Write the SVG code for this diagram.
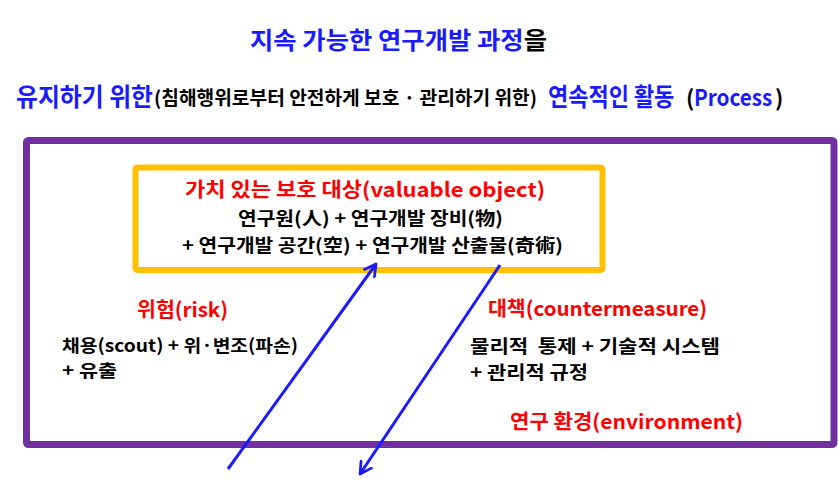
<svg xmlns="http://www.w3.org/2000/svg" width="838" height="490" viewBox="0 0 838 490">
<defs>
<style>
text{font-family:"Noto Sans CJK KR","Noto Sans",sans-serif;font-weight:700;}
.blue{fill:#1a1aff;}
.red{fill:#ff0000;}
.blk{fill:#000000;}
.conn{stroke:#1a1aff;stroke-width:3;fill:none;}
</style>
<marker id="ah" viewBox="0 0 12 12" refX="10" refY="6" markerWidth="5" markerHeight="5" orient="auto" markerUnits="strokeWidth">
<path d="M1,1 L10,6 L1,11" fill="none" stroke="#1a1aff" stroke-width="2.2" stroke-linecap="round" stroke-linejoin="round"/>
</marker>
</defs>
<rect width="838" height="490" fill="#ffffff"/>
<g id="title">
<text x="250" y="49" font-size="24" class="blue" textLength="297" lengthAdjust="spacingAndGlyphs">지속 가능한 연구개발 과정<tspan class="blk">을</tspan></text>
<text x="16" y="106" font-size="25" class="blue" textLength="137" lengthAdjust="spacingAndGlyphs">유지하기 위한</text>
<text x="154" y="105" font-size="19" class="blk" textLength="383" lengthAdjust="spacingAndGlyphs">(침해행위로부터 안전하게 보호 · 관리하기 위한)</text>
<text transform="translate(548,106) scale(0.88,1)" font-size="25" class="blue">연속적인 활동</text>
<text x="686" y="106" font-size="22" class="blk">(</text>
<text transform="translate(694,106) scale(0.9,1)" font-size="23" class="blue">Process</text>
<text x="775" y="106" font-size="22" class="blk">)</text>
</g>
<g id="environment">
<rect x="26.5" y="140.5" width="807.5" height="304" fill="none" stroke="#7030a0" stroke-width="7" rx="2"/>
<text x="510" y="429" font-size="20" class="red" textLength="233" lengthAdjust="spacingAndGlyphs">연구 환경(environment)</text>
</g>
<g id="valuable-object">
<rect x="135.5" y="167.5" width="467" height="102.5" fill="#ffffff" stroke="#ffc000" stroke-width="6" rx="2"/>
<text x="185" y="197" font-size="20" class="red" textLength="360" lengthAdjust="spacingAndGlyphs">가치 있는 보호 대상(valuable object)</text>
<text x="238" y="225" font-size="18" class="blk" textLength="265" lengthAdjust="spacingAndGlyphs">연구원(人) + 연구개발 장비(物)</text>
<text x="182" y="252" font-size="18" class="blk" textLength="381" lengthAdjust="spacingAndGlyphs">+ 연구개발 공간(空) + 연구개발 산출물(奇術)</text>
</g>
<g id="risk">
<text x="137" y="317" font-size="20" class="red" textLength="91" lengthAdjust="spacingAndGlyphs">위험(risk)</text>
<text x="62" y="352" font-size="17.5" class="blk" textLength="236" lengthAdjust="spacingAndGlyphs">채용(scout) + 위·변조(파손)</text>
<text x="62" y="377" font-size="17.5" class="blk" textLength="55" lengthAdjust="spacingAndGlyphs">+ 유출</text>
</g>
<g id="countermeasure">
<text x="488" y="316" font-size="20" class="red" textLength="219" lengthAdjust="spacingAndGlyphs">대책(countermeasure)</text>
<text x="470" y="353" font-size="18" class="blk" textLength="250" lengthAdjust="spacingAndGlyphs" xml:space="preserve">물리적  통제 + 기술적 시스템</text>
<text x="470" y="379" font-size="18" class="blk" textLength="118" lengthAdjust="spacingAndGlyphs">+ 관리적 규정</text>
</g>
<g id="connectors">
<line class="conn" x1="228" y1="469" x2="376" y2="264" marker-end="url(#ah)"/>
<line class="conn" x1="500" y1="265" x2="360" y2="474" marker-end="url(#ah)"/>
</g>
</svg>
